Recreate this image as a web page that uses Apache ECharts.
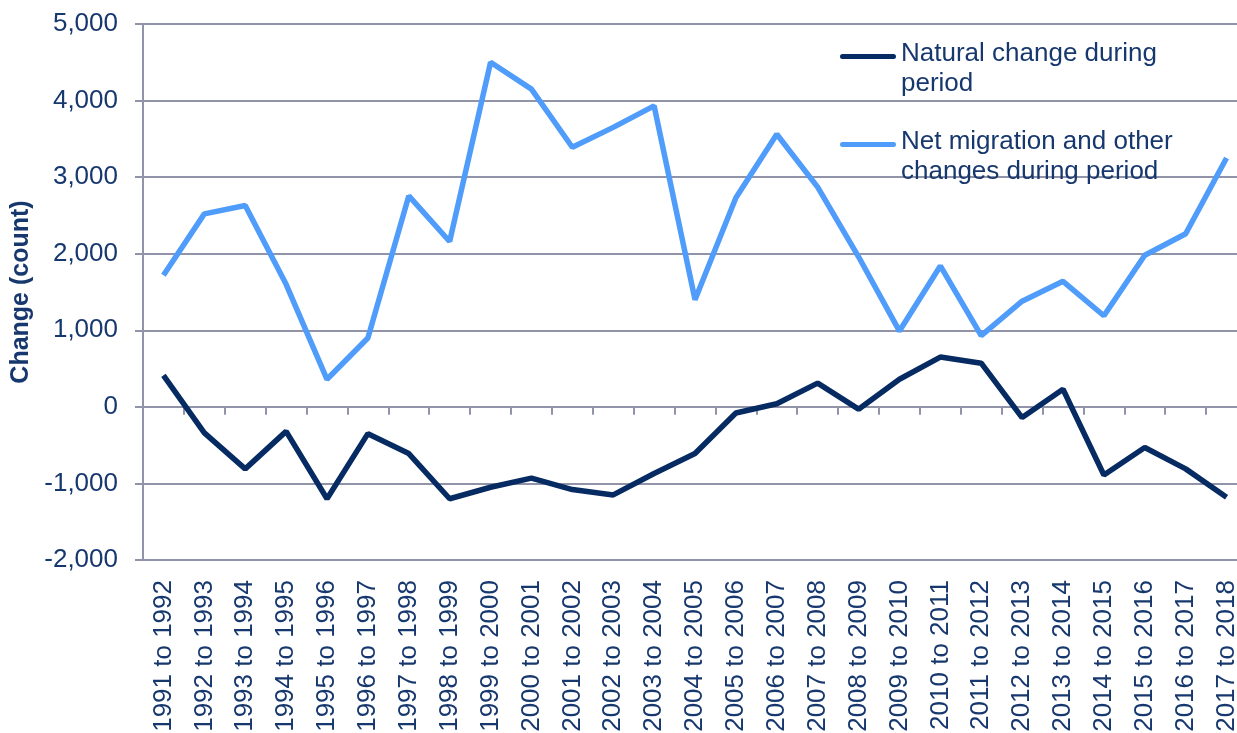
<!DOCTYPE html>
<html>
<head>
<meta charset="utf-8">
<script src="https://cdn.jsdelivr.net/npm/echarts@6/dist/echarts.min.js"></script>
<style>
  html, body { margin: 0; padding: 0; background: #fff; }
  #box { width: 1237px; height: 733px; }
</style>
</head>
<body>
<div id="box"></div>
<script>
  const periods = ['1991 to 1992', '1992 to 1993', '1993 to 1994', '1994 to 1995', '1995 to 1996',
    '1996 to 1997', '1997 to 1998', '1998 to 1999', '1999 to 2000', '2000 to 2001', '2001 to 2002',
    '2002 to 2003', '2003 to 2004', '2004 to 2005', '2005 to 2006', '2006 to 2007', '2007 to 2008',
    '2008 to 2009', '2009 to 2010', '2010 to 2011', '2011 to 2012', '2012 to 2013', '2013 to 2014',
    '2014 to 2015', '2015 to 2016', '2016 to 2017', '2017 to 2018']
  const naturalChange = [410, -340, -810, -320, -1200, -350, -610, -1200, -1050, -930, -1080,
    -1150, -870, -610, -80, 40, 310, -30, 360, 650, 570, -140, 230, -890, -530, -810, -1180]
  const netMigration = [1720, 2520, 2630, 1600, 360, 900, 2755, 2160, 4500, 4150, 3390,
    3650, 3930, 1400, 2730, 3560, 2870, 1960, 990, 1840, 930, 1380, 1640, 1190, 1980, 2260, 3250]
  const seriesNames = ['Natural change during period', 'Net migration and other changes during period']
  const legendText = ['Natural change during\nperiod', 'Net migration and other\nchanges during period']

  const textColor = '#17386e'
  const gridColor = '#9194a8'
  const font = "'Liberation Sans', Arial, sans-serif"
  // legend line sits on the first text line: bar at top of a 56x30 box
  const legendIcon = 'path://M2.5,0L53.5,0A2.5,2.5,0,0,1,53.5,5L2.5,5A2.5,2.5,0,0,1,2.5,0Z M0,30L56,30'

  let myChart = echarts.init(document.getElementById('box'))
  let option = {
    animation: false,
    textStyle: { fontFamily: font },
    grid: { left: 143, right: -10, top: 24, bottom: 173, outerBoundsMode: 'none', containLabel: false },
    legend: {
      orient: 'vertical',
      left: 840,
      top: 39,
      padding: 0,
      itemGap: 28,
      itemWidth: 56,
      itemHeight: 30,
      icon: legendIcon,
      symbolKeepAspect: false,
      itemStyle: { borderWidth: 0 },
      textStyle: { fontSize: 26, lineHeight: 30, color: textColor, fontFamily: font },
      formatter: (name) => legendText[seriesNames.indexOf(name)],
      data: seriesNames
    },
    xAxis: [
      {
        type: 'category',
        data: periods,
        position: 'bottom',
        axisLine: { show: false, onZero: false },
        axisTick: { show: false },
        axisLabel: { interval: 0, rotate: 90, margin: 20, fontSize: 26, color: textColor, fontFamily: font }
      },
      {
        type: 'category',
        data: periods,
        position: 'top',
        axisLine: { show: true, onZero: true, lineStyle: { color: gridColor, width: 2 } },
        axisTick: { show: true, inside: true, length: 8, interval: 0, lineStyle: { color: gridColor, width: 2 } },
        axisLabel: { show: false },
        splitLine: { show: false }
      }
    ],
    yAxis: {
      type: 'value',
      min: -2000,
      max: 5000,
      interval: 1000,
      name: 'Change (count)',
      nameLocation: 'middle',
      nameGap: 106,
      nameTextStyle: { fontSize: 25, fontWeight: 'bold', color: textColor, fontFamily: font },
      axisLine: { show: true, lineStyle: { color: gridColor, width: 2 } },
      axisTick: { show: true, length: 8, lineStyle: { color: gridColor, width: 2 } },
      axisLabel: {
        margin: 25,
        fontSize: 26,
        color: textColor,
        fontFamily: font,
        formatter: (v) => v.toLocaleString('en-US')
      },
      splitLine: { show: true, lineStyle: { color: gridColor, width: 2 } }
    },
    series: [
      {
        name: seriesNames[0],
        type: 'line',
        data: naturalChange,
        symbol: 'none',
        z: 3,
        lineStyle: { color: '#062a62', width: 5.5 },
        itemStyle: { color: '#062a62' }
      },
      {
        name: seriesNames[1],
        type: 'line',
        data: netMigration,
        symbol: 'none',
        z: 3,
        lineStyle: { color: '#4f9cfa', width: 5.5 },
        itemStyle: { color: '#4f9cfa' }
      }
    ]
  }
  myChart.setOption(option)
</script>
</body>
</html>
